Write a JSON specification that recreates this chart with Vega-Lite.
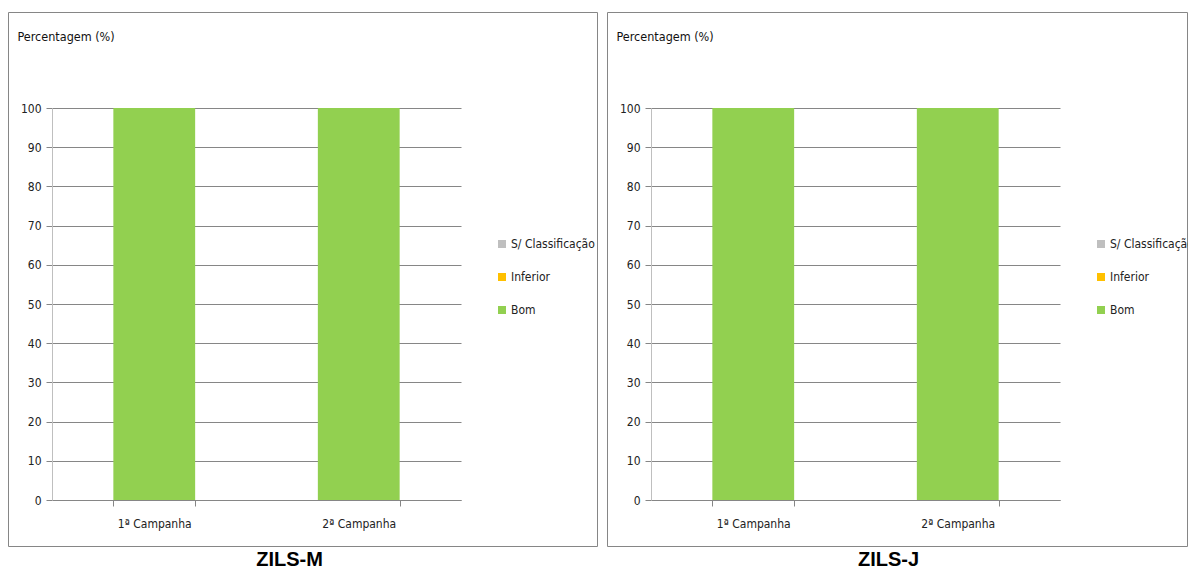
{
  "$schema": "https://vega.github.io/schema/vega-lite/v6.json",
  "padding": {"left": 7, "top": 11, "right": 0, "bottom": 0},
  "background": "white",
  "data": {
    "values": [
      {"painel": "ZILS-M", "campanha": "1ª Campanha", "classe": "Bom", "pct": 100},
      {"painel": "ZILS-M", "campanha": "1ª Campanha", "classe": "Inferior", "pct": 0},
      {"painel": "ZILS-M", "campanha": "1ª Campanha", "classe": "S/ Classificação", "pct": 0},
      {"painel": "ZILS-M", "campanha": "2ª Campanha", "classe": "Bom", "pct": 100},
      {"painel": "ZILS-M", "campanha": "2ª Campanha", "classe": "Inferior", "pct": 0},
      {"painel": "ZILS-M", "campanha": "2ª Campanha", "classe": "S/ Classificação", "pct": 0},
      {"painel": "ZILS-J", "campanha": "1ª Campanha", "classe": "Bom", "pct": 100},
      {"painel": "ZILS-J", "campanha": "1ª Campanha", "classe": "Inferior", "pct": 0},
      {"painel": "ZILS-J", "campanha": "1ª Campanha", "classe": "S/ Classificação", "pct": 0},
      {"painel": "ZILS-J", "campanha": "2ª Campanha", "classe": "Bom", "pct": 100},
      {"painel": "ZILS-J", "campanha": "2ª Campanha", "classe": "Inferior", "pct": 0},
      {"painel": "ZILS-J", "campanha": "2ª Campanha", "classe": "S/ Classificação", "pct": 0}
    ]
  },
  "spacing": 8,
  "hconcat": [
    {
      "width": 589,
      "height": 534,
      "transform": [{"filter": "datum.painel === 'ZILS-M'"}],
      "mark": {"type": "bar"},
      "encoding": {
        "x": {
          "field": "campanha", "type": "nominal", "sort": null,
          "scale": {"range": [44, 453], "paddingInner": 0.6, "paddingOuter": 0.3},
          "axis": {"title": "ZILS-M", "offset": -46, "tickBand": "extent", "labelAngle": 0, "titleX": 281, "titleY": 59}
        },
        "y": {
          "field": "pct", "type": "quantitative", "stack": "zero",
          "scale": {"domain": [0, 100], "range": [488, 96], "nice": false},
          "axis": {"title": "Percentagem (%)", "offset": -44, "values": [0, 10, 20, 30, 40, 50, 60, 70, 80, 90, 100], "titleX": -35, "titleY": 24}
        },
        "color": {
          "field": "classe", "type": "nominal",
          "scale": {"domain": ["S/ Classificação", "Inferior", "Bom"], "range": ["#BFBFBF", "#FFC000", "#92D050"]},
          "legend": {"orient": "none", "legendX": 488, "legendY": 226}
        }
      }
    },
    {
      "width": 580,
      "height": 534,
      "transform": [{"filter": "datum.painel === 'ZILS-J'"}],
      "mark": {"type": "bar"},
      "encoding": {
        "x": {
          "field": "campanha", "type": "nominal", "sort": null,
          "scale": {"range": [44, 453], "paddingInner": 0.6, "paddingOuter": 0.3},
          "axis": {"title": "ZILS-J", "offset": -46, "tickBand": "extent", "labelAngle": 0, "titleX": 281, "titleY": 59}
        },
        "y": {
          "field": "pct", "type": "quantitative", "stack": "zero",
          "scale": {"domain": [0, 100], "range": [488, 96], "nice": false},
          "axis": {"title": "Percentagem (%)", "offset": -44, "values": [0, 10, 20, 30, 40, 50, 60, 70, 80, 90, 100], "titleX": -35, "titleY": 24}
        },
        "color": {
          "field": "classe", "type": "nominal",
          "scale": {"domain": ["S/ Classificação", "Inferior", "Bom"], "range": ["#BFBFBF", "#FFC000", "#92D050"]},
          "legend": {"orient": "none", "legendX": 488, "legendY": 226}
        }
      }
    }
  ],
  "resolve": {"scale": {"color": "shared"}, "legend": {"color": "independent"}},
  "config": {
    "font": "'DejaVu Sans Condensed', sans-serif",
    "view": {"stroke": "#868686", "strokeWidth": 1},
    "axis": {
      "domainColor": "#868686", "tickColor": "#868686", "tickSize": 6,
      "labelFontSize": 12, "labelColor": "#222222", "labelFont": "'DejaVu Sans Condensed', sans-serif"
    },
    "axisX": {
      "grid": false, "labelPadding": 12,
      "titleFont": "'Liberation Sans', Arial, sans-serif", "titleFontSize": 20, "titleFontWeight": "bold", "titleColor": "#000000",
      "titleAlign": "center", "titleBaseline": "middle"
    },
    "axisY": {
      "grid": true, "gridColor": "#868686", "gridOpacity": 1, "labelPadding": 5, "domainColor": "#BFBFBF",
      "titleAngle": 0, "titleAlign": "left", "titleBaseline": "middle", "titleFontSize": 12.5, "titleFontWeight": "normal",
      "titleColor": "#111111", "titleFont": "'DejaVu Sans Condensed', sans-serif"
    },
    "legend": {
      "title": null, "symbolType": "square", "symbolSize": 64, "symbolStrokeWidth": 0,
      "labelFontSize": 12, "labelColor": "#222222", "rowPadding": 21, "labelOffset": 3,
      "labelFont": "'DejaVu Sans Condensed', sans-serif"
    }
  }
}
